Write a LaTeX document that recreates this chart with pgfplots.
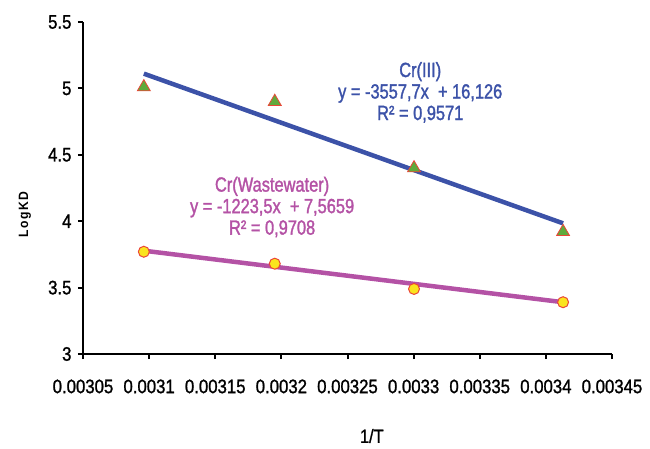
\documentclass[border=0pt]{standalone}
\usepackage{pgfplots}
\pgfplotsset{compat=1.18}
\usepackage{fontspec}
\setmainfont{Liberation Sans}[FakeStretch=0.86, FakeBold=1.2]
\newfontfamily\annfont{Liberation Sans}[FakeStretch=0.80, FakeBold=1.5]
\newfontfamily\ylabfont{Liberation Sans}[FakeStretch=0.9, LetterSpace=12]
\definecolor{lblue}{RGB}{60,82,168}
\definecolor{lmag}{RGB}{180,82,165}
\definecolor{tgreen}{RGB}{95,170,60}
\definecolor{cyel}{RGB}{250,228,30}
\definecolor{mred}{RGB}{235,70,55}
\begin{document}
\begin{tikzpicture}[x=1pt,y=1pt]
\useasboundingbox (-83,-94) rectangle (567,354);
\begin{axis}[at={(0,0)}, anchor=south west, scale only axis,
  width=529pt, height=332pt,
  xmin=0.00305, xmax=0.00345, ymin=3, ymax=5.5,
  scaled x ticks=false, scaled y ticks=false,
  axis lines=left, axis line style={line width=2.5pt, -, black},
  xtick={0.00305,0.0031,0.00315,0.0032,0.00325,0.0033,0.00335,0.0034,0.00345},
  xticklabels={0.00305,0.0031,0.00315,0.0032,0.00325,0.0033,0.00335,0.0034,0.00345},
  ytick={3,3.5,4,4.5,5,5.5},
  yticklabels={3,3.5,4,4.5,5,5.5},
  tick style={line width=2pt, black}, tick align=outside, major tick length=5pt,
  ticklabel style={font=\fontsize{19.5}{22}\selectfont},
  xticklabel style={yshift=-17pt},
  yticklabel style={xshift=-3pt},
  xlabel={1/T}, ylabel={LogKD},
  xlabel style={at={([yshift=-82pt]rel axis cs:0.546,0)}, anchor=center, font=\fontsize{19}{22}\selectfont},
  ylabel style={at={([xshift=-58pt]rel axis cs:0,0.42)}, anchor=center, rotate=0, font=\ylabfont\fontsize{13.5}{16}\selectfont\bfseries},
  clip=false,
]
% Cr(III) data (triangles, under the trend line)
\addplot[only marks, mark=triangle*, mark size=7.5pt, mark options={fill=tgreen, draw=mred, line width=0.8pt}]
  coordinates {(0.003096,5.01) (0.003195,4.90) (0.0033003,4.40) (0.003413,3.92)};
\addplot[lblue, line width=4.5pt] coordinates {(0.003096,5.111) (0.003413,3.984)};
% Wastewater trend line then circles
\addplot[lmag, line width=4.5pt] coordinates {(0.003096,3.778) (0.003413,3.390)};
\addplot[only marks, mark=*, mark size=5.5pt, mark options={fill=cyel, draw=mred, line width=1pt}]
  coordinates {(0.003096,3.77) (0.003195,3.68) (0.0033003,3.49) (0.003413,3.39)};
\node[lblue, align=center, font=\annfont\fontsize{20.5}{21.5}\selectfont] at (axis cs:0.003305,4.97)
  {Cr(III)\\y = -3557,7x \ + 16,126\\R² = 0,9571};
\node[lmag, align=center, font=\annfont\fontsize{20.5}{21.5}\selectfont] at (axis cs:0.003193,4.107)
  {Cr(Wastewater)\\y = -1223,5x \ + 7,5659\\R² = 0,9708};
\end{axis}
\end{tikzpicture}
\end{document}
